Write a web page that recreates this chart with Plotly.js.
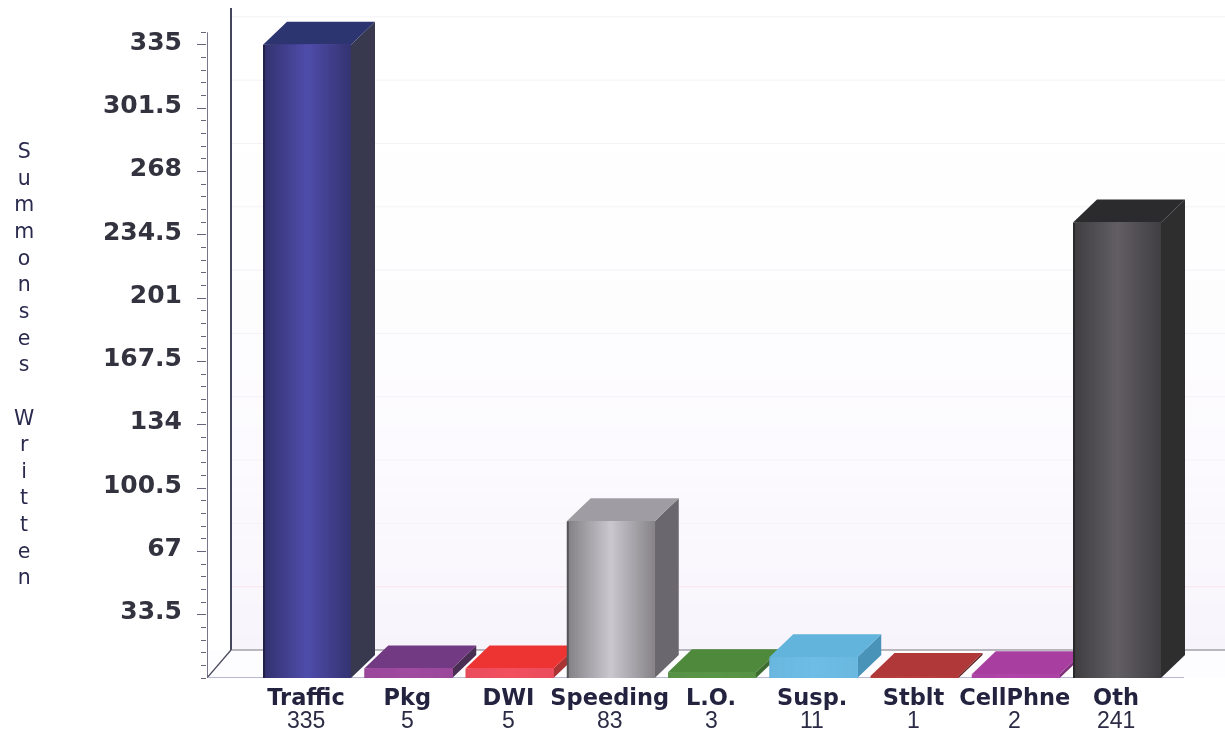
<!DOCTYPE html>
<html><head><meta charset="utf-8">
<script src="https://cdn.plot.ly/plotly-3.0.1.min.js"></script>
<style>html,body{margin:0;padding:0;background:#fff;overflow:hidden}#c{width:1225px;height:734px;filter:blur(0.6px)}</style>
</head><body><div id="c"></div>
<script>
const categories = ['Traffic','Pkg','DWI','Speeding','L.O.','Susp.','Stblt','CellPhne','Oth'];
const values = [335,5,5,83,3,11,1,2,241];
const yTicks = [0,33.5,67,100.5,134,167.5,201,234.5,268,301.5,335];
const yTickText = ['','33.5','67','100.5','134','167.5','201','234.5','268','301.5','335'];
const faceColors = ['#4f4dab','#a04aa0','#f2505f','#cbc7cf','#5a9648','#6dbde6','#b83c3c','#b044a8','#625f64'];
const topColors  = ['#2c3570','#733a84','#ee3333','#a09ca4','#4f8a3c','#62b4dc','#b03838','#a83fa0','#2b2a2c'];
const sideColors = ['#38384f','#4a2d52','#a83434','#6a686e','#3d6b30','#4a93b8','#5c2222','#80307a','#2e2e2e'];
const shading    = [1,0.1,0.1,1,0.08,0.08,0.05,0.05,1];
const axisTitleLetters = 'Summonses Written'.split('');

const W=1225,H=734,L=207,R=0,T=8,B=56;
const pxX=101.25, pxY=1.89;
const x0=(L-306)/pxX, x1=(W-R-306)/pxX, yMax=(H-B-T)/pxY;
const half=44/pxX, dx=24/pxX, dy=23/pxY, shift=1/pxX;
const wallDx=24/pxX, wallDy=28/pxY;

function shade(hex,m){
  const n=parseInt(hex.slice(1),16);
  const c=[n>>16,(n>>8)&255,n&255].map(v=>Math.max(0,Math.min(255,Math.round(v*m))));
  return `rgb(${c[0]},${c[1]},${c[2]})`;
}
function profile(t,s){
  let m;
  if(t<0.03) m=0.42; else if(t<0.5) m=0.66+0.34*(t-0.03)/0.47; else m=1-0.34*(t-0.5)/0.5;
  return 1-(1-m)*s;
}
const traces=[];
function poly(xs,ys,color){
  traces.push({type:'scatter',mode:'lines',x:[...xs,xs[0]],y:[...ys,ys[0]],fill:'toself',
    fillcolor:color,line:{color:color,width:0},hoverinfo:'skip',showlegend:false,cliponaxis:false});
}
const N=43;
values.forEach((v,i)=>{
  const a=i+shift-half,b=i+shift+half;
  poly([b,b+dx,b+dx,b],[0,dy,v+dy,v],sideColors[i]);
  poly([a,a+dx,b+dx,b],[v,v+dy,v+dy,v],topColors[i]);
  // front face: each strip runs to the right edge and the next one paints over it
  for(let k=0;k<N;k++){
    const s0=a+(b-a)*k/N;
    poly([s0,b,b,s0],[0,0,v,v],shade(faceColors[i],profile((k+.5)/N,shading[i])));
  }
});

const shapes=[];
const grad=40;
for(let k=0;k<grad;k++){
  const f0=k/grad,f1=(k+1)/grad;
  const t=Math.pow(1-f0,2.2);
  const col=`rgb(${Math.round(255-7*t)},${Math.round(255-11*t)},${Math.round(255-3*t)})`;
  shapes.push({type:'rect',layer:'below',xref:'x',yref:'y',x0:x0+wallDx,x1:x1,
    y0:wallDy+(yMax-wallDy)*f0,y1:wallDy+(yMax-wallDy)*f1,fillcolor:col,line:{width:0}});
}
shapes.push({type:'rect',layer:'below',xref:'x',yref:'y',x0:x0,x1:x1,y0:0,y1:wallDy,fillcolor:'#fdfcfe',line:{width:0}});
yTicks.slice(1).forEach(t=>shapes.push({type:'line',layer:'below',xref:'x',yref:'y',x0:x0+wallDx,x1:x1,
  y0:t+wallDy,y1:t+wallDy,line:{color:t===33.5?'#f7e6ee':'#f5f2f7',width:1}}));
shapes.push({type:'line',layer:'below',xref:'x',yref:'y',x0:x0+wallDx,x1:x0+wallDx,y0:wallDy,y1:yMax,line:{color:'#30304a',width:1.8}});
shapes.push({type:'line',layer:'below',xref:'x',yref:'y',x0:x0+wallDx,x1:x1,y0:wallDy,y1:wallDy,line:{color:'#77777f',width:1.2}});
shapes.push({type:'line',layer:'below',xref:'x',yref:'y',x0:x0,x1:x0+wallDx,y0:0,y1:wallDy,line:{color:'#44445a',width:1.2}});
shapes.push({type:'line',layer:'below',xref:'x',yref:'y',x0:x0,x1:8+half+dx,y0:0,y1:0,line:{color:'#b9b8d2',width:1.8}});
shapes.push({type:'line',layer:'below',xref:'x',yref:'y',x0:x0,x1:x0,y0:0,y1:341.7,line:{color:'#55556a',width:1.6}});

const annotations=[];
values.forEach((v,i)=>annotations.push({xref:'x',yref:'paper',x:i,y:(678-720)/(H-B-T),yanchor:'middle',xanchor:'center',
  text:String(v),showarrow:false,font:{family:'Liberation Sans',size:23,color:'#2b2b45'}}));
annotations.push({xref:'paper',yref:'paper',x:(24-L)/(W-L-R),y:(678-364)/(H-B-T),xanchor:'center',yanchor:'middle',align:'center',
  text:axisTitleLetters.map(c=>c===' '?'&nbsp;':c).join('<br>'),showarrow:false,
  font:{family:'DejaVu Sans',size:20.5,color:'#2a2a4e'}});

const minorVals=[];
for(let k=0;k<=51;k++) minorVals.push(+(k*6.7).toFixed(1));

Plotly.newPlot('c',traces,{
  width:W,height:H,margin:{l:L,r:R,t:T,b:B,pad:0},
  paper_bgcolor:'#fff',plot_bgcolor:'rgba(0,0,0,0)',showlegend:false,
  xaxis:{range:[x0,x1],tickmode:'array',tickvals:categories.map((c,i)=>i),ticktext:categories,
    showgrid:false,zeroline:false,showline:false,ticks:'',ticklabelstandoff:3,
    tickfont:{family:'DejaVu Sans',size:22.5,color:'#23233f',weight:700},tickangle:0},
  yaxis:{range:[0,yMax],tickmode:'array',tickvals:yTicks,ticktext:yTickText,showgrid:false,zeroline:false,
    showline:false,ticks:'outside',ticklen:9,tickwidth:1,tickcolor:'#66667a',ticklabelstandoff:10,ticklabelshift:-4,
    minor:{tickmode:'array',tickvals:minorVals,ticks:'outside',ticklen:5,tickwidth:1,tickcolor:'#66667a',showgrid:false},
    tickfont:{family:'DejaVu Sans',size:25,color:'#33333f',weight:700}},
  shapes,annotations
},{displayModeBar:false,staticPlot:true});
</script></body></html>
